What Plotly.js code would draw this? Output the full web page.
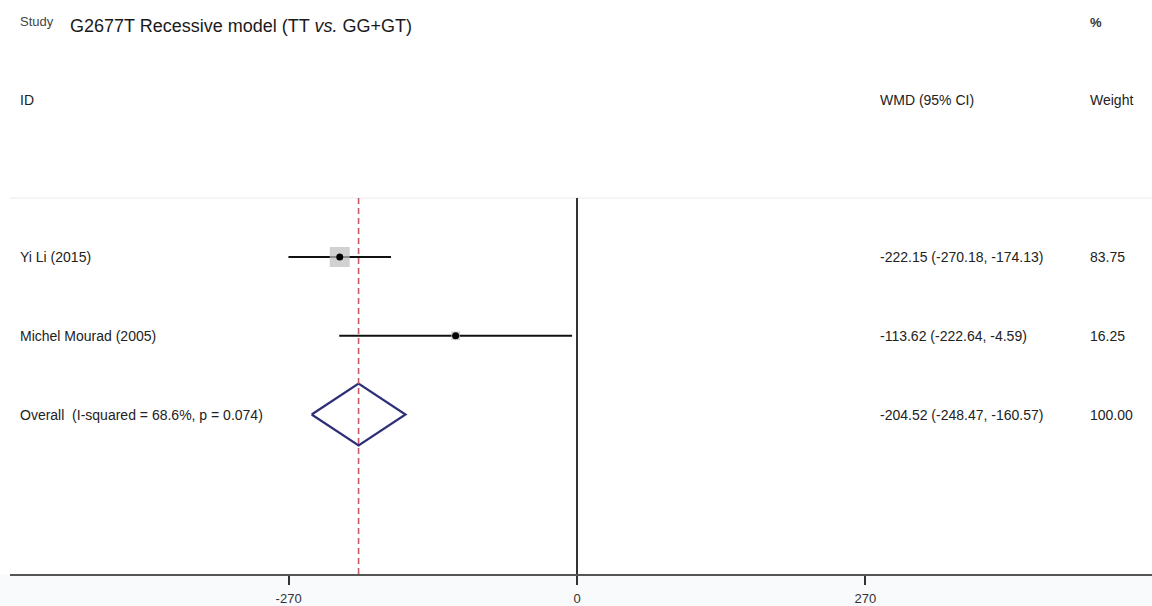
<!DOCTYPE html>
<html>
<head>
<meta charset="utf-8">
<script src="https://cdn.plot.ly/plotly-3.0.1.min.js"></script>
<style>
  html, body { margin: 0; padding: 0; background: #ffffff; }
  #chart { width: 1152px; height: 606px; }
</style>
</head>
<body>
<div id="chart"></div>
<script>
// ---------- data ----------
const studies = ["Yi Li (2015)", "Michel Mourad (2005)"];
const wmd = [-222.15, -113.62];
const ciLow = [-270.18, -222.64];
const ciHigh = [-174.13, -4.59];
const weights = [83.75, 16.25];

const overallLabel = "Overall\u00a0 (I-squared = 68.6%, p = 0.074)";
const overallWmd = -204.52;
const overallLow = -248.47;
const overallHigh = -160.57;
const overallWeight = 100.00;

const tickVals = [-270, 0, 270];
const tickText = ["-270", "0", "270"];

const titleText = "G2677T Recessive model (TT <i>vs.</i> GG+GT)";

// ---------- layout helpers ----------
const W = 1152, H = 606;
const M = { l: 10, r: 0, t: 198, b: 32 };
const plotW = W - M.l - M.r, plotH = H - M.t - M.b;
const px = x => (x - M.l) / plotW;            // pixel x -> paper x
const py = y => (H - M.b - y) / plotH;        // pixel y -> paper y

const FONT = "Liberation Sans, Arial, Helvetica, sans-serif";
const rowY = studies.map((_, i) => studies.length + 1 - i); // 3, 2
const overallY = 1;
const dHalf = 0.394;

const fmt = v => v.toFixed(2);

// ---------- traces ----------
const ciX = [], ciY = [];
studies.forEach((_, i) => {
  ciX.push(ciLow[i], ciHigh[i], null);
  ciY.push(rowY[i], rowY[i], null);
});

const maxW = Math.max(...weights);
const boxes = {
  type: "scatter", mode: "markers",
  x: wmd, y: rowY,
  marker: { symbol: "square", color: "#bdbdbd",
            size: weights.map(w => 20 * Math.sqrt(w / maxW)),
            line: { width: 0 } },
  hoverinfo: "skip"
};
const ciLines = {
  type: "scatter", mode: "lines",
  x: ciX, y: ciY,
  line: { color: "#111111", width: 2 },
  hoverinfo: "skip"
};
const points = {
  type: "scatter", mode: "markers",
  x: wmd, y: rowY,
  marker: { symbol: "circle", color: "#000000", size: 7 },
  hoverinfo: "skip"
};
const diamond = {
  type: "scatter", mode: "lines",
  x: [overallLow, overallWmd, overallHigh, overallWmd, overallLow],
  y: [overallY, overallY + dHalf, overallY, overallY - dHalf, overallY],
  line: { color: "#2e2f78", width: 2.2 },
  hoverinfo: "skip"
};

// ---------- annotations ----------
const ann = [];
const txt = (text, x, y, opts = {}) => Object.assign({
  text, x, y, xref: "paper", yref: "paper",
  xanchor: "left", yanchor: "middle", showarrow: false,
  font: { family: FONT, size: 14, color: "#222222" }
}, opts);

ann.push(txt("Study", px(18), py(21), { font: { family: FONT, size: 13, color: "#444444" } }));
ann.push(txt("<b>%</b>", px(1096), py(22), { xanchor: "center", font: { family: FONT, size: 13, color: "#333333" } }));
ann.push(txt("ID", px(18), py(100)));
ann.push(txt("WMD (95% CI)", px(878), py(100)));
ann.push(txt("Weight", px(1088), py(100)));

studies.forEach((s, i) => {
  ann.push(txt(s, px(18), rowY[i], { yref: "y" }));
  ann.push(txt(`${fmt(wmd[i])} (${fmt(ciLow[i])}, ${fmt(ciHigh[i])})`, px(878), rowY[i], { yref: "y" }));
  ann.push(txt(fmt(weights[i]), px(1088), rowY[i], { yref: "y" }));
});
ann.push(txt(overallLabel, px(18), overallY, { yref: "y" }));
ann.push(txt(`${fmt(overallWmd)} (${fmt(overallLow)}, ${fmt(overallHigh)})`, px(878), overallY, { yref: "y" }));
ann.push(txt(overallWeight.toFixed(2), px(1088), overallY, { yref: "y" }));

// ---------- shapes ----------
const shapes = [
  { type: "rect", xref: "paper", yref: "paper", x0: px(0), x1: px(W), y0: py(H), y1: 0,
    fillcolor: "#f9fafb", line: { width: 0 }, layer: "below" },
  { type: "line", xref: "paper", yref: "paper", x0: 0, x1: 1, y0: 1, y1: 1,
    line: { color: "#ece8e8", width: 1 } },
  { type: "line", xref: "x", yref: "paper", x0: 0, x1: 0, y0: 0, y1: 1,
    line: { color: "#333333", width: 2 } },
  { type: "line", xref: "x", yref: "paper", x0: overallWmd, x1: overallWmd, y0: 0, y1: 1,
    line: { color: "#bf5a66", width: 1.6, dash: "6px,4px" } }
];

const xPerPx = 1 / 1.068;
const zeroPx = 577;
const layout = {
  width: W, height: H,
  margin: M,
  paper_bgcolor: "#ffffff", plot_bgcolor: "rgba(0,0,0,0)",
  showlegend: false,
  title: { text: titleText, xref: "container", yref: "container",
           x: 70 / W, xanchor: "left", y: 1 - 26 / H, yanchor: "middle",
           font: { family: FONT, size: 18, color: "#1a1a1a" } },
  xaxis: {
    range: [(M.l - zeroPx) * xPerPx, (W - M.r - zeroPx) * xPerPx],
    tickvals: tickVals, ticktext: tickText,
    ticks: "outside", ticklen: 9, tickwidth: 2, tickcolor: "#333333",
    ticklabelstandoff: 2,
    showline: true, linecolor: "#555555", linewidth: 2,
    showgrid: false, zeroline: false, fixedrange: true,
    tickfont: { family: FONT, size: 13, color: "#333333" }
  },
  yaxis: {
    range: [-1.025, 3.749],
    visible: false, showgrid: false, zeroline: false, fixedrange: true
  },
  shapes: shapes,
  annotations: ann
};

Plotly.newPlot("chart", [ciLines, boxes, points, diamond], layout,
  { displayModeBar: false, staticPlot: true });
</script>
</body>
</html>
